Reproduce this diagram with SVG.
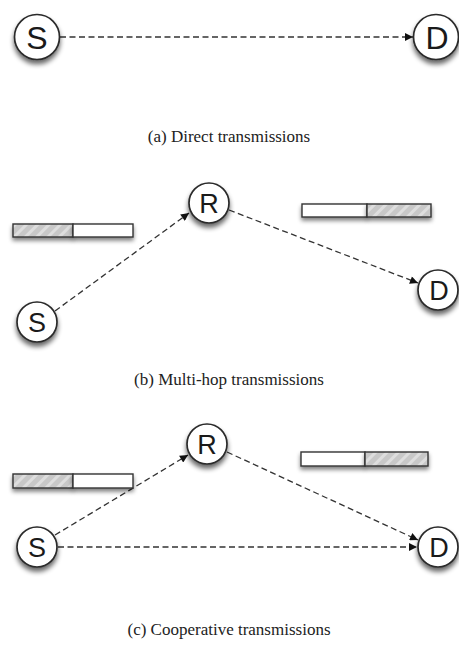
<svg xmlns="http://www.w3.org/2000/svg" width="459" height="648" viewBox="0 0 459 648">
<style>
.node circle{fill:#fff;stroke:#2a2a2a;stroke-width:1.7;filter:url(#sh)}
.node text{font-family:"Liberation Sans",Arial,sans-serif;fill:#1a1a1a;text-anchor:middle;dominant-baseline:central}
.big text{font-size:32px}
.small text{font-size:27px}
.edge{fill:none;stroke:#333;stroke-width:1.3;stroke-dasharray:6 3.5;marker-end:url(#ah)}
.cap{font-family:"Liberation Serif","Times New Roman",serif;font-size:17px;fill:#222;text-anchor:middle}
.bar rect{stroke:#333;stroke-width:1.4;filter:url(#sh2)}
.hat{fill:url(#hatch)}
.wht{fill:#fff}
</style>
<defs>
<filter id="sh" x="-50%" y="-50%" width="200%" height="200%">
<feGaussianBlur in="SourceAlpha" stdDeviation="2.5"/>
<feOffset dx="0" dy="4" result="b"/>
<feComponentTransfer><feFuncA type="linear" slope="0.6"/></feComponentTransfer>
<feMerge><feMergeNode/><feMergeNode in="SourceGraphic"/></feMerge>
</filter>
<filter id="sh2" x="-20%" y="-50%" width="140%" height="250%">
<feGaussianBlur in="SourceAlpha" stdDeviation="2"/>
<feOffset dx="0" dy="3"/>
<feComponentTransfer><feFuncA type="linear" slope="0.5"/></feComponentTransfer>
<feMerge><feMergeNode/><feMergeNode in="SourceGraphic"/></feMerge>
</filter>
<pattern id="hatch" width="8" height="8" patternUnits="userSpaceOnUse" patternTransform="rotate(45)">
<rect width="8" height="8" fill="#c8c8c8"/>
<rect width="3" height="8" fill="#dedede"/>
</pattern>
<marker id="ah" viewBox="0 0 10 10" refX="10" refY="5" markerWidth="9" markerHeight="8" markerUnits="userSpaceOnUse" orient="auto">
<path d="M0,0 L10,5 L0,10 z" fill="#111"/>
</marker>
</defs>

<g id="connectors">
<line class="edge" x1="60" y1="37" x2="413" y2="37"/>
<line class="edge" x1="55" y1="311" x2="189" y2="213"/>
<line class="edge" x1="229" y1="210" x2="418" y2="283"/>
<line class="edge" x1="55" y1="535" x2="188" y2="455"/>
<line class="edge" x1="227" y1="452" x2="418" y2="540"/>
<line class="edge" x1="58" y1="547" x2="417" y2="547"/>
</g>

<g id="a-S" class="node big"><circle cx="37" cy="37" r="22.5"/><text x="37" y="38">S</text></g>
<g id="a-D" class="node big"><circle cx="436" cy="37" r="22.5"/><text x="437" y="38">D</text></g>
<text id="cap-a" class="cap" x="229" y="142">(a) Direct transmissions</text>

<g id="b-bar-left" class="bar"><rect class="hat" x="13" y="224" width="60" height="13"/><rect class="wht" x="73" y="224" width="60" height="13"/></g>
<g id="b-bar-right" class="bar"><rect class="wht" x="302" y="204" width="65" height="13"/><rect class="hat" x="367" y="204" width="64" height="13"/></g>
<g id="b-R" class="node small"><circle cx="209" cy="203" r="20"/><text x="209" y="204">R</text></g>
<g id="b-S" class="node small"><circle cx="37" cy="322" r="20"/><text x="37" y="323">S</text></g>
<g id="b-D" class="node small"><circle cx="438" cy="290" r="20"/><text x="439" y="291">D</text></g>
<text id="cap-b" class="cap" x="229" y="385">(b) Multi-hop transmissions</text>

<g id="c-bar-left" class="bar"><rect class="hat" x="13" y="474" width="60" height="14"/><rect class="wht" x="73" y="474" width="60" height="14"/></g>
<g id="c-bar-right" class="bar"><rect class="wht" x="301" y="452" width="64" height="14"/><rect class="hat" x="365" y="452" width="63" height="14"/></g>
<g id="c-R" class="node small"><circle cx="207" cy="444" r="20"/><text x="207" y="445">R</text></g>
<g id="c-S" class="node small"><circle cx="37" cy="547" r="20"/><text x="37" y="548">S</text></g>
<g id="c-D" class="node small"><circle cx="438" cy="547" r="20"/><text x="439" y="548">D</text></g>
<text id="cap-c" class="cap" x="229" y="635">(c) Cooperative transmissions</text>
</svg>
